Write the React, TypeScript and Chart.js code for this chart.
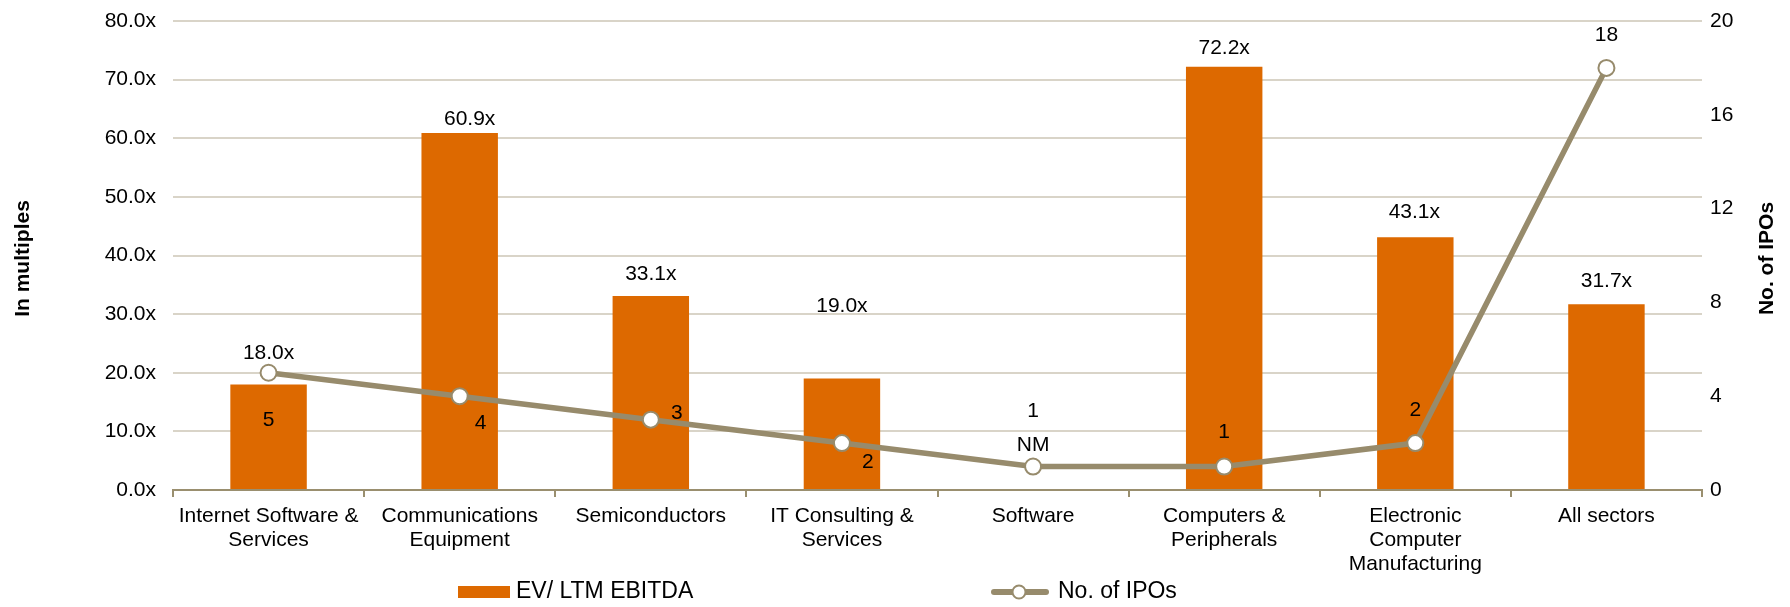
import React, { useEffect, useRef } from "react";
import { Chart, registerables } from "chart.js";

Chart.register(...registerables);

const categories: string[][] = [
  ["Internet Software &", "Services"],
  ["Communications", "Equipment"],
  ["Semiconductors"],
  ["IT Consulting &", "Services"],
  ["Software"],
  ["Computers &", "Peripherals"],
  ["Electronic", "Computer", "Manufacturing"],
  ["All sectors"],
];
const evMultiples: (number | null)[] = [18.0, 60.9, 33.1, 19.0, null, 72.2, 43.1, 31.7];
const ipoCounts: number[] = [5, 4, 3, 2, 1, 1, 2, 18];
const leftTicks = { min: 0, max: 80, step: 10 };
const rightTicks = { min: 0, max: 20, step: 4 };
const barLabel = "EV/ LTM EBITDA";
const lineLabel = "No. of IPOs";
const leftTitle = "In multiples";
const rightTitle = "No. of IPOs";

// label offsets (style only) relative to bar top / marker
const barLabelOffsets: [number, number][] = [
  [0, -31], [10, -14], [0, -22], [0, -72], [0, -45], [0, -19], [-1, -25], [0, -23],
];
const lineLabelOffsets: [number, number][] = [
  [0, 47], [21, 27], [26, -6], [26, 19], [0, -55], [0, -34], [0, -33], [0, -33],
];

const ORANGE = "#DD6900";
const OLIVE = "#978B6C";
const AXIS = "#9A8F6F";
const GRID = "#D9D4C8";
const FONT = "'Liberation Sans', Arial, sans-serif";
const FS = 21;
const LEGEND_FS = 23;

const customPlugin = {
  id: "customLabels",
  afterDatasetsDraw(chart: any) {
    const ctx = chart.ctx;
    const xs = chart.scales.x;
    const ys = chart.scales.y;
    const ys2 = chart.scales.y2;
    ctx.save();
    ctx.fillStyle = "#000";
    ctx.font = `${FS}px ${FONT}`;
    ctx.textAlign = "center";
    ctx.textBaseline = "middle";
    evMultiples.forEach((v, i) => {
      const x = xs.getPixelForValue(i);
      const y = ys.getPixelForValue(v == null ? 0 : v);
      const t = v == null ? "NM" : v.toFixed(1) + "x";
      ctx.fillText(t, x + barLabelOffsets[i][0], y + barLabelOffsets[i][1]);
    });
    ipoCounts.forEach((v, i) => {
      const x = xs.getPixelForValue(i);
      const y = ys2.getPixelForValue(v);
      ctx.fillText(String(v), x + lineLabelOffsets[i][0], y + lineLabelOffsets[i][1]);
    });
    ctx.restore();
  },
  afterDraw(chart: any) {
    const ctx = chart.ctx;
    const area = chart.chartArea;
    const midY = (area.top + area.bottom) / 2;
    ctx.save();
    ctx.fillStyle = "#000";
    ctx.font = `bold ${FS}px ${FONT}`;
    ctx.textAlign = "center";
    ctx.textBaseline = "middle";
    ctx.translate(23, midY + 3);
    ctx.rotate(-Math.PI / 2);
    ctx.fillText(leftTitle, 0, 0);
    ctx.restore();

    ctx.save();
    ctx.fillStyle = "#000";
    ctx.font = `bold ${FS}px ${FONT}`;
    ctx.textAlign = "center";
    ctx.textBaseline = "middle";
    ctx.translate(1767, midY + 3);
    ctx.rotate(-Math.PI / 2);
    ctx.fillText(rightTitle, 0, 0);
    ctx.restore();

    // legend
    const ly = 592;
    ctx.save();
    ctx.fillStyle = ORANGE;
    ctx.fillRect(458, ly - 6, 52, 12);
    ctx.fillStyle = "#000";
    ctx.font = `${LEGEND_FS}px ${FONT}`;
    ctx.textAlign = "left";
    ctx.textBaseline = "middle";
    ctx.fillText(barLabel, 516, ly);
    ctx.strokeStyle = OLIVE;
    ctx.lineWidth = 6;
    ctx.lineCap = "round";
    ctx.beginPath();
    ctx.moveTo(994, ly);
    ctx.lineTo(1046, ly);
    ctx.stroke();
    ctx.beginPath();
    ctx.arc(1019, ly, 6.5, 0, Math.PI * 2);
    ctx.fillStyle = "#fff";
    ctx.fill();
    ctx.lineWidth = 2;
    ctx.stroke();
    ctx.fillStyle = "#000";
    ctx.fillText(lineLabel, 1058, ly);
    ctx.restore();
  },
};

function zeroPad(s: any) {
  s.paddingTop = 0;
  s.paddingBottom = 0;
  s.paddingLeft = 0;
  s.paddingRight = 0;
}

export default function App() {
  const ref = useRef<HTMLCanvasElement | null>(null);
  useEffect(() => {
    document.body.style.margin = "0";
    document.body.style.overflow = "hidden";
    const canvas = ref.current;
    if (!canvas) return;
    const chart = new Chart(canvas, {
      type: "bar",
      data: {
        labels: categories as any,
        datasets: [
          {
            type: "line",
            label: lineLabel,
            data: ipoCounts,
            yAxisID: "y2",
            borderColor: OLIVE,
            borderWidth: 5.5,
            pointRadius: 8,
            pointBorderWidth: 2,
            pointBackgroundColor: "#fff",
            pointBorderColor: OLIVE,
            tension: 0,
            order: 0,
          } as any,
          {
            type: "bar",
            label: barLabel,
            data: evMultiples,
            yAxisID: "y",
            backgroundColor: ORANGE,
            categoryPercentage: 1,
            barPercentage: 0.4,
            order: 1,
          } as any,
        ],
      },
      options: {
        responsive: false,
        animation: false,
        events: [],
        layout: { padding: { top: 21, left: 0, right: 0, bottom: 0 } },
        plugins: { legend: { display: false }, tooltip: { enabled: false } },
        scales: {
          x: {
            offset: true,
            grid: {
              offset: true,
              drawOnChartArea: false,
              drawTicks: true,
              tickLength: 7,
              color: AXIS,
              lineWidth: 2,
            },
            border: { display: true, color: AXIS, width: 2 },
            ticks: {
              color: "#000",
              font: { family: FONT, size: FS, lineHeight: 1.143 },
              padding: 7,
              maxRotation: 0,
              autoSkip: false,
            },
            afterFit(s: any) {
              s.height = 117;
              zeroPad(s);
            },
          },
          y: {
            position: "left",
            min: leftTicks.min,
            max: leftTicks.max,
            ticks: {
              stepSize: leftTicks.step,
              color: "#000",
              font: { family: FONT, size: FS },
              padding: 17,
              callback: (v: any) => Number(v).toFixed(1) + "x",
            },
            grid: {
              drawTicks: false,
              color: (c: any) => (c.tick && c.tick.value === 0 ? "rgba(0,0,0,0)" : GRID),
              lineWidth: 2,
            },
            border: { display: false },
            afterFit(s: any) {
              s.width = 173;
              zeroPad(s);
            },
          },
          y2: {
            position: "right",
            min: rightTicks.min,
            max: rightTicks.max,
            ticks: {
              stepSize: rightTicks.step,
              color: "#000",
              font: { family: FONT, size: FS },
              padding: 8,
            },
            grid: { drawOnChartArea: false, drawTicks: false },
            border: { display: false },
            afterFit(s: any) {
              s.width = 88;
              zeroPad(s);
            },
          },
        },
      },
      plugins: [customPlugin],
    });
    return () => chart.destroy();
  }, []);
  return <canvas ref={ref} width={1790} height={607} style={{ display: "block" }} />;
}
